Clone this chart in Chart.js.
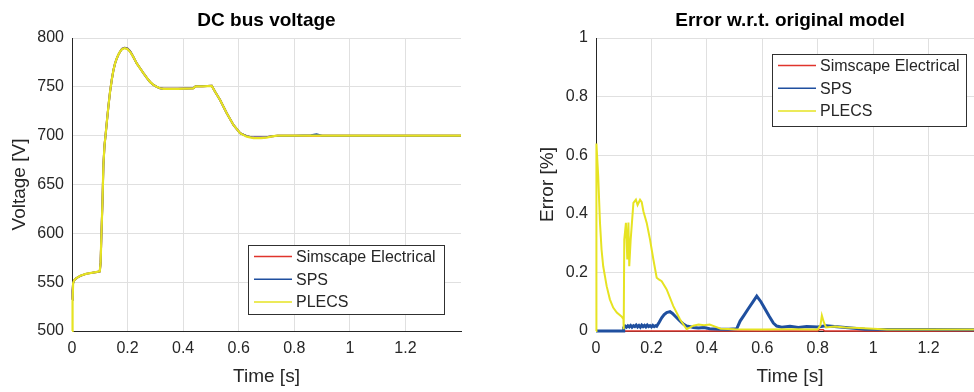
<!DOCTYPE html>
<html>
<head>
<meta charset="utf-8">
<script src="https://cdn.jsdelivr.net/npm/chart.js@4.4.1/dist/chart.umd.min.js"></script>
<style>
html, body { margin:0; padding:0; background:#fff; overflow:hidden; width:974px; height:392px; }
#left { position:absolute; left:0; top:0; width:480px; height:392px; }
#right { position:absolute; left:500px; top:0; width:500px; height:392px; }
</style>
</head>
<body>
<div id="left"><canvas id="c1"></canvas></div>
<div id="right"><canvas id="c2"></canvas></div>
<script>
// DC bus voltage (left)
var timeV = [
  0, 0.002, 0.004, 0.008, 0.015, 0.03, 0.05, 0.07, 0.09, 0.1,
  0.103, 0.106, 0.11, 0.113, 0.117, 0.121, 0.126, 0.131, 0.137, 0.143,
  0.149, 0.155, 0.161, 0.167, 0.173, 0.18, 0.19, 0.2, 0.209, 0.22,
  0.233, 0.245, 0.257, 0.27, 0.281, 0.293, 0.305, 0.317, 0.33, 0.38,
  0.436, 0.445, 0.47, 0.503, 0.515, 0.533, 0.557, 0.581, 0.605, 0.629,
  0.653, 0.68, 0.7, 0.72, 0.74, 0.8, 0.86, 0.88, 0.9, 1.0,
  1.2, 1.4];
var simscapeV = [
  532, 541, 549, 552, 554, 556.5, 558.5, 559.5, 560.5, 561,
  570, 600, 635, 670, 690, 701, 716, 730, 745, 757,
  767, 774, 779, 783, 786, 789, 790, 789, 786.5, 781,
  774, 769, 764, 759, 755, 752, 750, 748.5, 748, 748,
  748.5, 750.5, 750.5, 751, 745, 736.5, 723, 711, 702.5, 699.5,
  698, 698, 698.5, 699.5, 700, 700, 700, 700, 700, 700,
  700, 700];
var spsV = [
  532, 541, 549, 552, 554, 556.5, 558.5, 559.5, 560.5, 561,
  570, 600, 635, 670, 690, 701, 716, 730, 745, 757,
  767, 774, 779, 783, 786, 789, 790, 789, 786.5, 781,
  774, 769, 764, 759, 755, 752, 750, 748.5, 748, 748,
  748.5, 750.5, 750.5, 751, 745, 736.5, 723, 711, 702.5, 699.5,
  698, 698, 698.5, 699.5, 700, 700, 700.5, 701.5, 700, 700,
  700, 700];
var plecsV = [
  500, 530, 549, 552, 554, 556.5, 558.5, 559.5, 560.5, 561,
  570, 600, 635, 670, 690, 701, 716, 730, 745, 757,
  767, 774, 779, 783, 786, 788.5, 789.6, 788.5, 786, 781,
  774, 769, 764, 759, 755, 752, 750, 748.5, 748, 748,
  748.5, 750.5, 750.5, 751, 745, 736.5, 723, 711, 702.5, 699,
  697.5, 697.5, 698, 699.3, 700, 700, 700, 700, 700, 700,
  700, 700];

// Error w.r.t. original model (right)
var tErrSim = [0, 0.8, 0.805, 0.82, 0.825, 1.4];
var errSim = [0, 0, 0.004, 0.004, 0, 0];
var tErrSps = [
  0, 0.002, 0.099, 0.1, 0.105, 0.11, 0.115, 0.12, 0.125, 0.13,
  0.135, 0.14, 0.145, 0.15, 0.155, 0.16, 0.165, 0.17, 0.175, 0.18,
  0.185, 0.19, 0.195, 0.2, 0.205, 0.21, 0.215, 0.219, 0.228, 0.237,
  0.246, 0.255, 0.267, 0.276, 0.285, 0.294, 0.303, 0.315, 0.327, 0.34,
  0.351, 0.37, 0.39, 0.41, 0.43, 0.45, 0.48, 0.508, 0.52, 0.535,
  0.55, 0.565, 0.58, 0.595, 0.61, 0.625, 0.64, 0.652, 0.67, 0.7,
  0.73, 0.76, 0.8, 0.83, 0.86, 0.9, 0.95, 0.97, 1.1, 1.2,
  1.4];
var errSps = [
  0, 0, 0, 0.012, 0.017, 0.013, 0.018, 0.014, 0.019, 0.013,
  0.018, 0.015, 0.02, 0.014, 0.019, 0.013, 0.02, 0.015, 0.019, 0.014,
  0.02, 0.015, 0.018, 0.014, 0.019, 0.015, 0.018, 0.016, 0.03, 0.045,
  0.056, 0.063, 0.066, 0.06, 0.051, 0.043, 0.034, 0.024, 0.017, 0.015,
  0.012, 0.01, 0.012, 0.008, 0.007, 0.006, 0.006, 0.008, 0.034, 0.055,
  0.077, 0.098, 0.119, 0.1, 0.075, 0.05, 0.027, 0.017, 0.013, 0.016,
  0.012, 0.015, 0.014, 0.018, 0.015, 0.012, 0.008, 0.006, 0.005, 0.005,
  0.004];
var tErrPlecs = [
  0, 0.0015, 0.008, 0.0144, 0.02, 0.026, 0.0385, 0.05, 0.062, 0.075,
  0.093, 0.099, 0.1, 0.102, 0.108, 0.113, 0.117, 0.12, 0.125, 0.135,
  0.144, 0.15, 0.159, 0.165, 0.171, 0.183, 0.195, 0.207, 0.219, 0.228,
  0.237, 0.255, 0.279, 0.303, 0.327, 0.34, 0.351, 0.37, 0.39, 0.41,
  0.43, 0.45, 0.5, 0.6, 0.7, 0.8, 0.81, 0.815, 0.822, 0.83,
  0.86, 0.9, 0.95, 1.0, 1.05, 1.2, 1.4];
var errPlecs = [
  0, 0.64, 0.528, 0.369, 0.278, 0.221, 0.153, 0.108, 0.08, 0.063,
  0.049, 0.04, 0.006, 0.312, 0.369, 0.244, 0.37, 0.221, 0.31, 0.437,
  0.448, 0.43, 0.448, 0.44, 0.409, 0.369, 0.312, 0.244, 0.182, 0.175,
  0.17, 0.142, 0.085, 0.04, 0.006, 0.012, 0.018, 0.022, 0.02, 0.022,
  0.015, 0.008, 0.006, 0.005, 0.006, 0.005, 0.02, 0.053, 0.03, 0.012,
  0.015, 0.012, 0.01, 0.008, 0.005, 0.005, 0.005];

var seriesNames = ['Simscape Electrical', 'SPS', 'PLECS'];
var seriesColors = ['#e0342c', '#1f4f9f', '#e6e322'];
var textColor = '#262626';

Chart.defaults.font.family = "'Liberation Sans', Arial, sans-serif";

function topoints(ts, vs)
{
  var pts = [];
  for (var i = 0; i < ts.length; i++)
    pts.push({x: ts[i], y: vs[i]});
  return pts;
}

function fmt(v)
{
  return String(Math.round(v * 100) / 100);
}

function makechart(id, title, ylabel, ymin, ymax, ystep, data_list, widths, box, yw, ytitlepad, padright)
{
  var datasets = [];
  for (var i = 0; i < data_list.length; i++)
  {
    datasets.push({
      label: seriesNames[i],
      data: data_list[i],
      borderColor: seriesColors[i],
      borderWidth: widths[i],
      pointRadius: 0,
      tension: 0,
      clip: 3,
      order: 3 - i
    });
  }

  // title centred over the plot area
  var titlePlugin = {
    id: 'plotTitle',
    afterDraw: function (chart) {
      var ca = chart.chartArea, ctx = chart.ctx;
      ctx.save();
      ctx.font = "bold 19px 'Liberation Sans', Arial, sans-serif";
      ctx.fillStyle = '#000';
      ctx.textAlign = 'center';
      ctx.textBaseline = 'middle';
      ctx.fillText(title, (ca.left + ca.right) / 2, 21);
      ctx.restore();
    }
  };

  // boxed legend inside the axes
  var legendPlugin = {
    id: 'boxLegend',
    afterDraw: function (chart) {
      var ctx = chart.ctx;
      ctx.save();
      ctx.fillStyle = '#fff';
      ctx.fillRect(box.x, box.y, box.w, box.h);
      ctx.strokeStyle = '#303030';
      ctx.lineWidth = 1;
      ctx.strokeRect(box.x + 0.5, box.y + 0.5, box.w, box.h);
      ctx.font = "16px 'Liberation Sans', Arial, sans-serif";
      ctx.textBaseline = 'middle';
      ctx.textAlign = 'left';
      for (var k = 0; k < seriesNames.length; k++)
      {
        var yy = box.y + 11.5 + k * 22.7;
        ctx.strokeStyle = seriesColors[k];
        ctx.lineWidth = 1.5;
        ctx.beginPath();
        ctx.moveTo(box.x + 6, yy);
        ctx.lineTo(box.x + 44, yy);
        ctx.stroke();
        ctx.fillStyle = textColor;
        ctx.fillText(seriesNames[k], box.x + 48, yy + 1);
      }
      ctx.restore();
    }
  };

  new Chart(document.getElementById(id), {
    type: 'line',
    data: { datasets: datasets },
    options: {
      responsive: true,
      maintainAspectRatio: false,
      animation: false,
      layout: { padding: { top: 38, right: padright, left: 0, bottom: 0 } },
      plugins: { legend: { display: false }, tooltip: { enabled: false } },
      scales: {
        x: {
          type: 'linear', min: 0, max: 1.4,
          ticks: { stepSize: 0.2, color: textColor, font: { size: 16 }, padding: 8, maxRotation: 0, callback: fmt },
          grid: { color: '#e0e0e0', drawTicks: false },
          border: { color: textColor },
          title: { display: true, text: 'Time [s]', color: textColor, font: { size: 19 }, padding: { top: 0, bottom: 4 } },
          afterBuildTicks: function (s) { s.ticks = s.ticks.filter(function (t) { return t.value < 1.3; }); },
          afterFit: function (s) { s.height = 61; }
        },
        y: {
          type: 'linear', min: ymin, max: ymax,
          ticks: { stepSize: ystep, color: textColor, font: { size: 16 }, padding: 8, callback: fmt },
          grid: { color: '#e0e0e0', drawTicks: false },
          border: { color: textColor },
          title: { display: true, text: ylabel, color: textColor, font: { size: 19 }, padding: { top: ytitlepad, bottom: 0 } },
          afterFit: function (s) { s.width = yw; }
        }
      }
    },
    plugins: [titlePlugin, legendPlugin]
  });
}

makechart('c1', 'DC bus voltage', 'Voltage [V]', 500, 800, 50,
  [topoints(timeV, simscapeV), topoints(timeV, spsV), topoints(timeV, plecsV)],
  [2, 2, 2.2],
  { x: 248, y: 245, w: 196, h: 69 }, 72, 8, 19);

makechart('c2', 'Error w.r.t. original model', 'Error [%]', 0, 1, 0.2,
  [topoints(tErrSim, errSim), topoints(tErrSps, errSps), topoints(tErrPlecs, errPlecs)],
  [1.5, 3, 2],
  { x: 272, y: 54, w: 194, h: 72 }, 96, 36, 16);
</script>
</body>
</html>
